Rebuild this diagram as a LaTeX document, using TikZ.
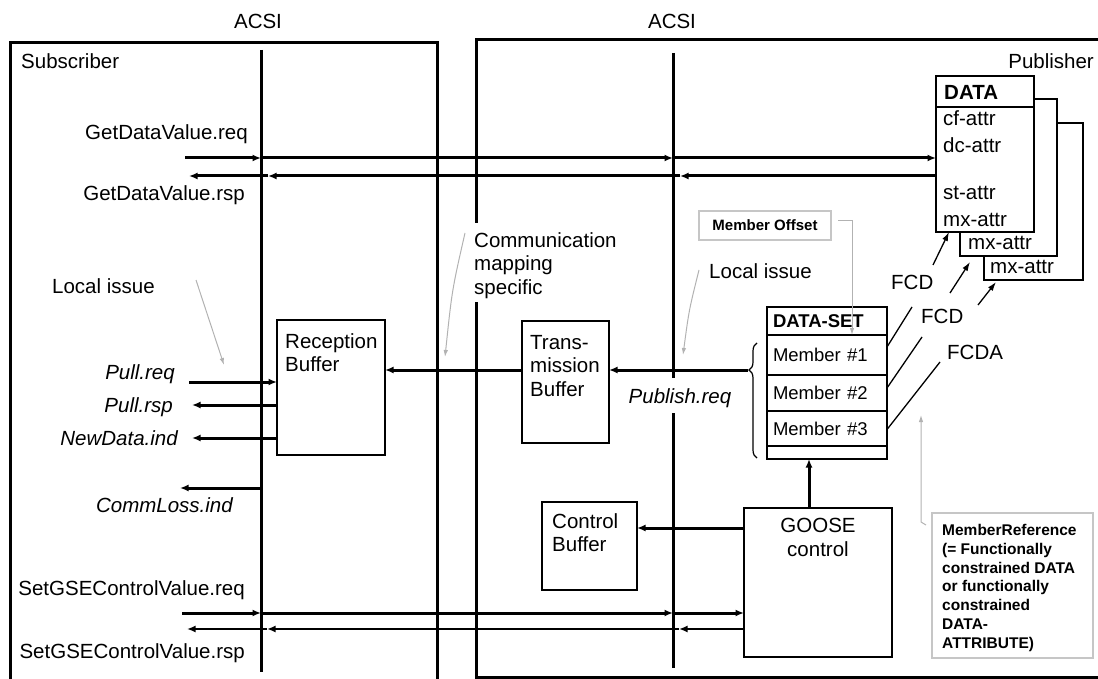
\documentclass[tikz,border=0pt]{standalone}
\usepackage{fontspec}
\setmainfont{Liberation Sans}
\usetikzlibrary{positioning,arrows.meta,decorations.pathreplacing}

\newcommand\lbfont{\fontsize{20.5}{23.5}\selectfont}
\newcommand\rowfont{\fontsize{18.5}{22}\selectfont}
\newcommand\notefont{\fontsize{15.5}{18.8}\selectfont\bfseries}

\tikzset{
  frame/.style={line width=3pt},
  sig/.style={line width=3pt,-{Latex[length=8.5pt,width=7pt]}},
  thinsig/.style={line width=1.8pt,-{Latex[length=8.5pt,width=7pt]}},
  link/.style={line width=1.3pt},
  fcd/.style={line width=1.3pt,-{Latex[length=9pt,width=6pt]}},
  note/.style={draw=gray!60,line width=1pt,-{Latex[length=7pt,width=4.5pt]}},
  box/.style={draw,line width=1.6pt,anchor=north west,inner sep=0pt,outer sep=0pt},
  notebox/.style={draw=gray!45,line width=1.2pt,anchor=north west,inner sep=0pt,outer sep=0pt},
  row/.style={draw,line width=1.6pt,outer sep=0pt,inner xsep=6pt,inner ysep=0pt,text width=108pt,align=left,font=\rowfont},
  lbl/.style={inner sep=0pt,font=\lbfont}
}

\begin{document}
\begin{tikzpicture}[x=1pt,y=-1pt]
\useasboundingbox (0,0) rectangle (1098,679);

\draw[frame] (10,682) -- (10,43) -- (437,43) -- (437,682);
\draw[frame] (476,223) -- (476,40) -- (1100,40);
\draw[frame] (476,302) -- (476,677) -- (1100,677);

\coordinate (sT) at (261,50); \coordinate (sB) at (261,672);
\coordinate (pT) at (673,53); \coordinate (pB) at (673,668);
\draw[frame] (sT) -- (sB);
\draw[frame] (pT) -- (673,378);
\draw[frame] (673,413) -- (pB);

\node[lbl,anchor=base] (acsiS) at (258,29) {ACSI};
\node[lbl,anchor=base] (acsiP) at (672,29) {ACSI};
\node[lbl,anchor=base west] (sub) at (21,69) {Subscriber};
\node[lbl,anchor=base east] (pub) at (1094,69) {Publisher};

\node[lbl,anchor=base east] (gdvq) at (248,140) {GetDataValue.req};
\node[lbl,anchor=base east] (gdvr) at (245,201) {GetDataValue.rsp};
\node[lbl,anchor=base west] (locS) at (52,293) {Local issue};
\node[lbl,anchor=base east] (pullq) at (175,379) {\itshape Pull.req};
\node[lbl,anchor=base east] (pullr) at (173,412) {\itshape Pull.rsp};
\node[lbl,anchor=base east] (newd) at (178,445) {\itshape NewData.ind};
\node[lbl,anchor=base east] (comml) at (233,512) {\itshape CommLoss.ind};
\node[lbl,anchor=base east] (gseq) at (245,595) {SetGSEControlValue.req};
\node[lbl,anchor=base east] (gser) at (245,658) {SetGSEControlValue.rsp};
\node[lbl,anchor=north west,align=left] (cms) at (474,232) {Communication\\mapping\\specific};
\node[lbl,anchor=base] (pubq) at (680,403) {\itshape Publish.req};
\node[lbl,anchor=base west] (locP) at (709,279) {Local issue};

\node[box,minimum width=108pt,minimum height=135pt] (recv) at (277,320) {};
\node[lbl,anchor=north west,align=left] at ([shift={(8,13)}]recv.north west) {Reception\\Buffer};
\node[box,minimum width=87pt,minimum height=122pt] (trans) at (522,321) {};
\node[lbl,anchor=north west,align=left] at ([shift={(8,14)}]trans.north west) {Trans-\\mission\\Buffer};
\node[box,minimum width=95pt,minimum height=88pt] (ctrl) at (542,502) {};
\node[lbl,anchor=north west,align=left] at ([shift={(10,11)}]ctrl.north west) {Control\\Buffer};
\node[box,minimum width=148pt,minimum height=149pt] (goose) at (744,508) {};
\node[lbl,anchor=north,align=center] at ([shift={(0,10)}]goose.north) {GOOSE\\control};

\node[box,fill=white,minimum width=99pt,minimum height=157pt] (data3) at (984,123) {};
\node[box,fill=white,minimum width=97pt,minimum height=157pt] (data2) at (960,99) {};
\node[box,fill=white,minimum width=98pt,minimum height=156pt] (data) at (936,76) {};
\draw[line width=1.6pt] ([yshift=-31pt]data.north west) -- ([yshift=-31pt]data.north east);
\node[lbl,anchor=base west] at (944,100) {\textbf{DATA}};
\node[lbl,anchor=base west] at (943,126) {cf-attr};
\node[lbl,anchor=base west] at (943,153) {dc-attr};
\node[lbl,anchor=base west] at (943,200) {st-attr};
\node[lbl,anchor=base west] at (943,227) {mx-attr};
\node[lbl,anchor=base west] at (968,250) {mx-attr};
\node[lbl,anchor=base west] at (990,273) {mx-attr};

\node[row,anchor=north west,minimum height=28pt] (dshead) at (767,307) {\textbf{DATA-SET}};
\node[row,below=0pt of dshead,minimum height=40pt] (m1) {Member \#1};
\node[row,below=0pt of m1,minimum height=36pt] (m2) {Member \#2};
\node[row,below=0pt of m2,minimum height=35pt] (m3) {Member \#3};
\node[row,below=0pt of m3,minimum height=13pt] (dsend) {};
\draw[line width=1.2pt,decorate,decoration={brace,amplitude=8pt,aspect=0.765}] (757,458) -- (757,343);
\coordinate (brtip) at (748,370);

\node[notebox,minimum width=132pt,minimum height=29pt,font=\fontsize{15}{17}\selectfont\bfseries] (moff) at (699,211) {Member Offset};
\node[notebox,minimum width=161pt,minimum height=145pt] (mref) at (932,513) {};
\node[anchor=north west,inner sep=0pt,align=left,font=\notefont] at (942,524) {MemberReference\\(= Functionally\\constrained DATA\\or functionally\\constrained\\DATA-\\ATTRIBUTE)};

\node[lbl,anchor=base west] (fcd1) at (891,290) {FCD};
\node[lbl,anchor=base west] (fcd2) at (921,323) {FCD};
\node[lbl,anchor=base west] (fcda) at (947,359) {FCDA};
\coordinate (f1) at (912,307); \coordinate (f2) at (922,337); \coordinate (f3) at (940,362);
\coordinate (a1) at (933,265); \coordinate (a2) at (950,293); \coordinate (a3) at (978,305);
\draw[link] ([yshift=8pt]m1.east) -- (f1);
\draw[link] ([yshift=5pt]m2.east) -- (f2);
\draw[link] ([yshift=-1pt]m3.east) -- (f3);
\draw[fcd] (a1) -- ([xshift=13pt]data.south west);
\draw[fcd] (a2) -- ([shift={(10,6)}]data2.south west);
\draw[fcd] (a3) -- ([shift={(12,2)}]data3.south west);

\coordinate (gq) at (185,158); \coordinate (gr) at (189,176);
\coordinate (grS) at (268,176); \coordinate (grP) at (680,176);
\draw[sig] (gq) -- (gq -| sT);
\draw[sig] (gq -| sT) -- (gq -| pT);
\draw[sig] (gq -| pT) -- (gq -| data.west);
\draw[sig] (gr -| data.west) -- (grP);
\draw[sig] (grP) -- (grS);
\draw[sig] (grS) -- (gr);

\coordinate (pq) at (189,382); \coordinate (pr) at (192,405);
\coordinate (nd) at (192,438); \coordinate (cl) at (180,488);
\draw[sig] (pq) -- (pq -| recv.west);
\draw[sig] (pr -| recv.west) -- (pr);
\draw[sig] (nd -| recv.west) -- (nd);
\draw[sig] (cl -| sT) -- (cl);

\draw[sig] (brtip) -- (brtip -| trans.east);
\draw[sig] (brtip -| trans.west) -- (brtip -| recv.east);

\coordinate (gu) at ([xshift=-9pt]goose.north);
\draw[sig] (gu) -- (gu |- dsend.south);
\coordinate (cb) at (744,528);
\draw[sig] (cb) -- (cb -| ctrl.east);

\coordinate (sq) at (182,613); \coordinate (sr) at (187,629);
\coordinate (srS) at (267,629); \coordinate (srP) at (679,629);
\draw[sig] (sq) -- (sq -| sT);
\draw[sig] (sq -| sT) -- (sq -| pT);
\draw[sig] (sq -| pT) -- (sq -| goose.west);
\draw[thinsig] (sr -| goose.west) -- (srP);
\draw[thinsig] (srP) -- (srS);
\draw[thinsig] (srS) -- (sr);

\coordinate (n1a) at (196,280); \coordinate (n1b) at (224,365);
\coordinate (n2a) at (465,233); \coordinate (n2b) at (445,357);
\coordinate (n3a) at (699,270); \coordinate (n3b) at (683,355);
\coordinate (mrtip) at (921,415);
\draw[note] (n1a) -- (n1b);
\draw[note] (n2a) .. controls (452,290) .. (n2b);
\draw[note] (n3a) .. controls (689,310) .. (n3b);
\draw[note] ([shift={(7,-5)}]moff.east) -| ([xshift=-35pt]m1.north east);
\draw[note] ([shift={(-6,12)}]mref.north west) -- ([shift={(-11,9)}]mref.north west) -- (mrtip);
\end{tikzpicture}
\end{document}
